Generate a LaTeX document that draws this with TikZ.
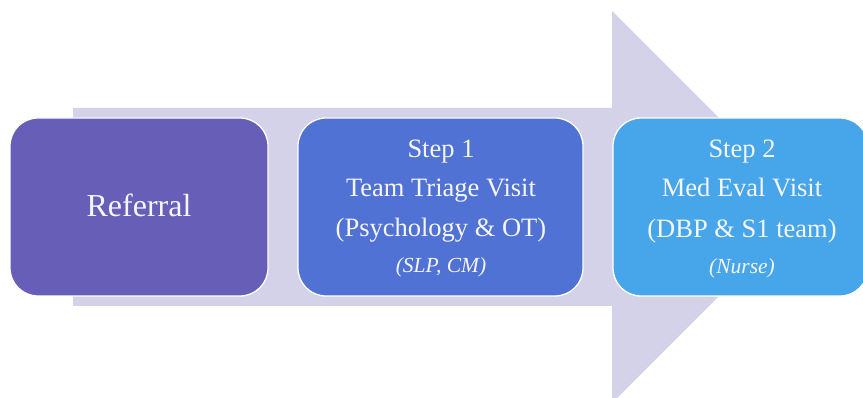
\documentclass[tikz,border=0pt]{standalone}
\usepackage{fontspec}
\setmainfont{Liberation Serif}
\definecolor{arrowc}{RGB}{212,210,232}
\definecolor{refc}{RGB}{103,95,183}
\definecolor{stepa}{RGB}{80,114,212}
\definecolor{stepb}{RGB}{71,165,234}
\definecolor{txt}{RGB}{246,246,250}
\tikzset{
  box/.style={draw=white, line width=1.3pt, rounded corners=28pt, inner sep=0pt,
    minimum width=#1, minimum height=178pt},
  line/.style={text=txt, anchor=base, inner sep=0pt, font=\fontsize{26.5}{30}\selectfont},
  sub/.style={text=txt, anchor=base, inner sep=0pt, font=\fontsize{21.5}{25}\selectfont\itshape}
}
\begin{document}
\begin{tikzpicture}[x=1pt,y=-1pt]
\useasboundingbox (0,0) rectangle (863,398);
\fill[arrowc] (73,108) -- (612,108) -- (612,11) -- (808,207) -- (612,403) -- (612,306) -- (73,306) -- cycle;
\node[box=258pt, fill=refc] (ref) at (139,207) {};
\node[box=285pt, fill=stepa] (s1) at (440.5,207) {};
\node[box=255pt, fill=stepb] (s2) at (740.5,207) {};
\node[line, font=\fontsize{32}{36}\selectfont] (reft) at (139,216.5) {Referral};
\node[line] (s1a) at (441,158) {Step 1};
\node[line] (s1b) at (441,197) {Team Triage Visit};
\node[line] (s1c) at (441,237) {(Psychology \& OT)};
\node[sub] (s1d) at (441,273) {(SLP, CM)};
\node[line] (s2a) at (742,158) {Step 2};
\node[line] (s2b) at (742,197) {Med Eval Visit};
\node[line] (s2c) at (742,238) {(DBP \& S1 team)};
\node[sub] (s2d) at (742,274) {(Nurse)};
\end{tikzpicture}
\end{document}
